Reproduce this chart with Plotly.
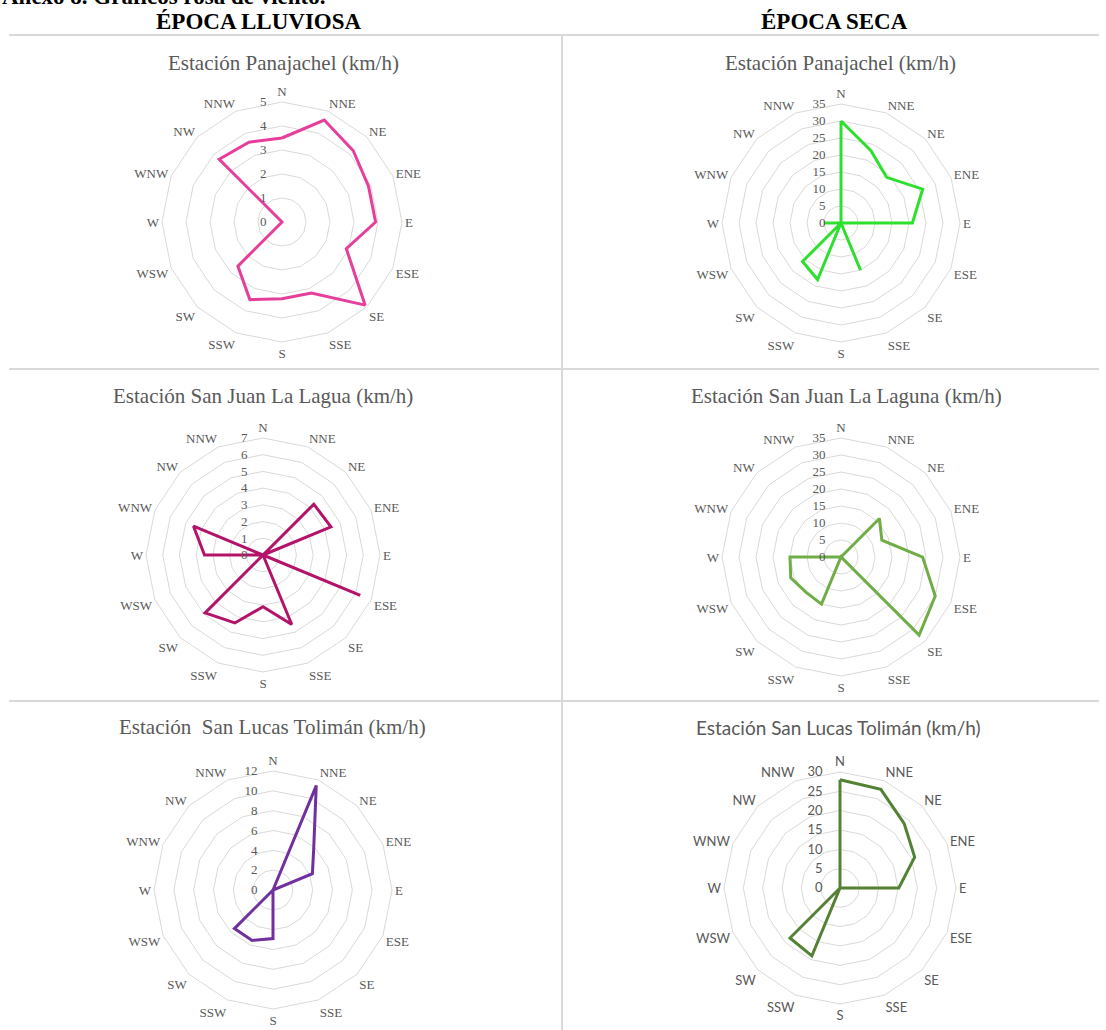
import plotly.graph_objects as go

W, H = 1106, 1030

# Wind directions (16-point compass)
directions = ["N", "NNE", "NE", "ENE", "E", "ESE", "SE", "SSE",
              "S", "SSW", "SW", "WSW", "W", "WNW", "NW", "NNW"]

# Mean wind speed per direction (km/h)
panajachel_lluviosa = [3.5, 4.6, 4.2, 3.9, 3.9, 2.9, 4.9, 3.2, 3.2, 3.5, 2.6, 0, 0, 0, 3.7, 3.6]
panajachel_seca = [30, 23, 19, 26, 21, 0, 0, 15, 0, 18, 16, 0, 5, 0, 0, 0]
san_juan_lluviosa = [0, 0, 4.3, 4.4, 0, 6.3, 0, 4.5, 3.1, 4.4, 4.9, 0, 3.5, 4.5, 0, 0]
san_juan_seca = [0, 0, 16, 13, 24, 30, 32.5, 0, 0, 15, 14.6, 16, 15, 0, 0, 0]
san_lucas_lluviosa = [0, 11.4, 5.8, 4.3, 0, 0, 0, 0, 4.9, 5.5, 5.5, 0, 0, 0, 0, 0]
san_lucas_seca = [28, 27.6, 23.5, 20.9, 15.2, 0, 0, 0, 0, 19, 18.3, 0, 0, 0, 0, 0]

titles = [
    "Estación Panajachel (km/h)",
    "Estación Panajachel (km/h)",
    "Estación San Juan La Lagua (km/h)",
    "Estación San Juan La Laguna (km/h)",
    "Estación\u00a0 San Lucas Tolimán (km/h)",
    "Estación San Lucas Tolimán (km/h)",
]

SERIF = "Liberation Serif"
SANS = "Lato"
GRAY = "#595959"
GRID = "#d9d9d9"

panels = [
    # values, colour, radial max, tick step, centre x, centre y, radius, title x, title y, font
    (panajachel_lluviosa, "#E63E9B", 5, 1, 282, 222, 120, 283, 63, SERIF),
    (panajachel_seca, "#2EE02E", 35, 5, 841, 223, 119, 840, 63, SERIF),
    (san_juan_lluviosa, "#B3146A", 7, 1, 263, 555, 117, 263, 396, SERIF),
    (san_juan_seca, "#70AD47", 35, 5, 841, 557, 119, 846, 396, SERIF),
    (san_lucas_lluviosa, "#7030A0", 12, 2, 273, 890, 119, 272, 727, SERIF),
    (san_lucas_seca, "#548235", 30, 5, 840, 888, 116, 838, 727, SANS),
]

fig = go.Figure()
layout = {}
annotations = []

for i, (vals, color, rmax, step, cx, cy, r, tx, ty, fam) in enumerate(panels, start=1):
    key = "polar" if i == 1 else f"polar{i}"
    fig.add_trace(go.Scatterpolar(
        r=vals + vals[:1],
        theta=directions + directions[:1],
        mode="lines",
        line=dict(color=color, width=3),
        subplot=key,
        showlegend=False,
        hoverinfo="r+theta",
    ))
    layout[key] = dict(
        domain=dict(x=[(cx - r) / W, (cx + r) / W],
                    y=[(H - cy - r) / H, (H - cy + r) / H]),
        bgcolor="white",
        gridshape="linear",
        radialaxis=dict(
            range=[0, rmax], dtick=step, angle=90, side="counterclockwise",
            tickangle=90, showline=False, ticks="", gridcolor=GRID, gridwidth=1,
            ticksuffix="\u2007\u2007",
            tickfont=dict(family=fam, size=13, color=GRAY),
        ),
        angularaxis=dict(
            type="category", categoryarray=directions, rotation=90,
            direction="clockwise", showgrid=False, showline=True,
            linecolor=GRID, linewidth=1, ticks="",
            tickfont=dict(family=fam, size=13, color=GRAY),
        ),
    )
    annotations.append(dict(
        text=titles[i - 1], x=tx / W, y=1 - ty / H, xref="paper", yref="paper",
        xanchor="center", yanchor="middle", showarrow=False,
        font=dict(family=fam, size=21 if fam == SERIF else 19, color=GRAY),
    ))

# Section headings
annotations += [
    dict(text="<b>Anexo 8. Gráficos rosa de viento.</b>", x=0, y=1 - 11 / H,
         xref="paper", yref="paper", xanchor="left", yanchor="bottom",
         showarrow=False, font=dict(family=SERIF, size=23, color="black")),
    dict(text="<b>ÉPOCA LLUVIOSA</b>", x=259 / W, y=1 - 22 / H, xref="paper", yref="paper",
         xanchor="center", yanchor="middle", showarrow=False,
         font=dict(family=SERIF, size=23, color="black")),
    dict(text="<b>ÉPOCA SECA</b>", x=834 / W, y=1 - 22 / H, xref="paper", yref="paper",
         xanchor="center", yanchor="middle", showarrow=False,
         font=dict(family=SERIF, size=23, color="black")),
]

# Panel frame lines
line_style = dict(color="#d9d9d9", width=2)
shapes = [
    dict(type="line", xref="paper", yref="paper", x0=9 / W, x1=1099 / W,
         y0=1 - 35 / H, y1=1 - 35 / H, line=line_style),
    dict(type="line", xref="paper", yref="paper", x0=9 / W, x1=1099 / W,
         y0=1 - 369 / H, y1=1 - 369 / H, line=line_style),
    dict(type="line", xref="paper", yref="paper", x0=9 / W, x1=1099 / W,
         y0=1 - 701 / H, y1=1 - 701 / H, line=line_style),
    dict(type="line", xref="paper", yref="paper", x0=562 / W, x1=562 / W,
         y0=0, y1=1 - 35 / H, line=line_style),
]

fig.update_layout(
    width=W, height=H,
    margin=dict(l=0, r=0, t=0, b=0),
    paper_bgcolor="white",
    font=dict(family=SERIF, color=GRAY),
    annotations=annotations,
    shapes=shapes,
    **layout,
)

fig.write_html("out.html")
